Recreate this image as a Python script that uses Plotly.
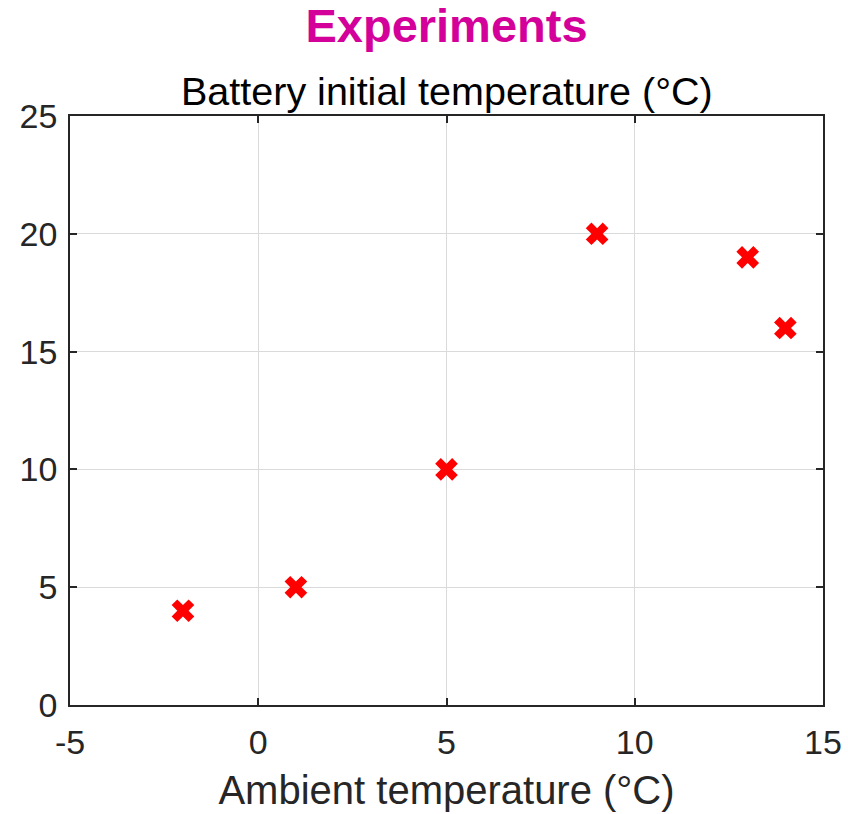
import plotly.graph_objects as go

ambient = [-2, 1, 5, 9, 13, 14]
battery = [4, 5, 10, 20, 19, 16]
x_ticks = [-5, 0, 5, 10, 15]
y_ticks = [0, 5, 10, 15, 20, 25]

FONT = "Liberation Sans, Arial, sans-serif"

fig = go.Figure()
fig.add_trace(go.Scatter(
    x=ambient, y=battery, mode="markers",
    marker=dict(symbol="x", size=20, color="#FF0000", line=dict(width=0)),
    showlegend=False, cliponaxis=False,
))

axis_common = dict(
    showline=True, linecolor="#262626", linewidth=1.6, mirror="ticks",
    ticks="inside", ticklen=7, tickwidth=1.6, tickcolor="#262626",
    showgrid=True, gridcolor="#DADADA", gridwidth=1.2, zeroline=False,
    automargin=False,
    tickfont=dict(family=FONT, size=34, color="#262626"),
)

fig.update_layout(
    width=848, height=814,
    margin=dict(l=70, r=25, t=116, b=109),
    paper_bgcolor="white", plot_bgcolor="white",
    title=dict(
        text="<b>Experiments</b>", x=0.5, xref="paper", xanchor="center",
        y=1 - 26 / 814, yref="container", yanchor="middle",
        font=dict(family=FONT, size=47, color="#D4009A"),
    ),
    xaxis=dict(
        range=[-5, 15], tickvals=x_ticks, ticktext=[str(v) for v in x_ticks],
        ticklabelstandoff=6,
        title=dict(text="Ambient temperature (°C)", standoff=16,
                   font=dict(family=FONT, size=40, color="#262626")),
        **axis_common,
    ),
    yaxis=dict(
        range=[0, 25], tickvals=y_ticks, ticktext=[str(v) for v in y_ticks],
        ticklabelstandoff=4,
        **axis_common,
    ),
    annotations=[dict(
        text="Battery initial temperature (°C)", x=0.5, xref="paper",
        y=1.0, yref="paper", yanchor="bottom", yshift=1, showarrow=False,
        font=dict(family=FONT, size=39.5, color="#000000"),
    )],
)

fig.write_html("out.html", config={"displayModeBar": False},
               post_script="document.body.style.margin='0';")
